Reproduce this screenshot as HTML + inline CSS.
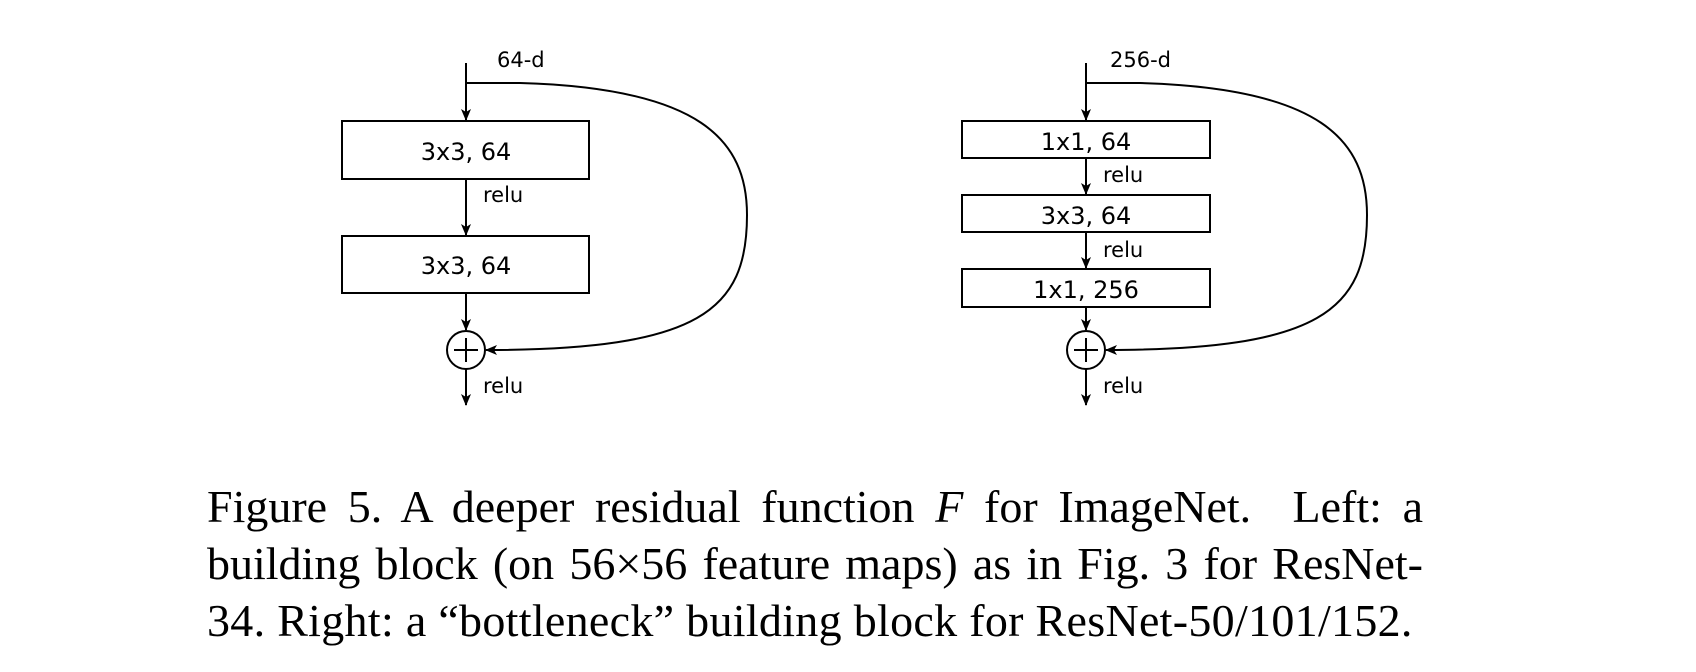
<!DOCTYPE html>
<html><head><meta charset="utf-8"><style>
html,body{margin:0;padding:0;background:#fff;}
body{width:1696px;height:672px;position:relative;overflow:hidden;}
svg{position:absolute;left:0;top:0;}
.cap{position:absolute;left:207px;font-family:"Liberation Serif",serif;font-size:46px;line-height:46px;color:#000;text-align:justify;text-align-last:justify;white-space:nowrap;}
</style></head><body>
<svg width="1696" height="672" viewBox="0 0 1696 672">
<defs><marker id="a" markerWidth="12" markerHeight="12" refX="11" refY="6" orient="auto" markerUnits="userSpaceOnUse"><path d="M0,1 L12,6 L0,11 L3,6 Z" fill="#000"/></marker></defs>
<g font-family="'DejaVu Sans','Liberation Sans',sans-serif" fill="#000">
<text x="497" y="67" font-size="21">64-d</text>
<line x1="466" y1="63" x2="466" y2="120" stroke="#000" stroke-width="2" marker-end="url(#a)"/>
<rect x="342" y="121" width="247" height="58" fill="none" stroke="#000" stroke-width="2"/>
<text x="466" y="160" font-size="24" text-anchor="middle">3x3, 64</text>
<line x1="466" y1="179" x2="466" y2="235" stroke="#000" stroke-width="2" marker-end="url(#a)"/>
<text x="483" y="202" font-size="21">relu</text>
<rect x="342" y="236" width="247" height="57" fill="none" stroke="#000" stroke-width="2"/>
<text x="466" y="274" font-size="24" text-anchor="middle">3x3, 64</text>
<line x1="466" y1="293" x2="466" y2="330" stroke="#000" stroke-width="2" marker-end="url(#a)"/>
<circle cx="466" cy="350" r="19" fill="none" stroke="#000" stroke-width="2"/>
<line x1="454" y1="350" x2="478" y2="350" stroke="#000" stroke-width="2"/>
<line x1="466" y1="338" x2="466" y2="362" stroke="#000" stroke-width="2"/>
<line x1="466" y1="369" x2="466" y2="405" stroke="#000" stroke-width="2" marker-end="url(#a)"/>
<text x="483" y="393" font-size="21">relu</text>
<path d="M466,83 L520,83 C700,88 747,140 747,215 C747,310 700,350 486,350" fill="none" stroke="#000" stroke-width="2" marker-end="url(#a)"/>
<text x="1110" y="67" font-size="21">256-d</text>
<line x1="1086" y1="63" x2="1086" y2="120" stroke="#000" stroke-width="2" marker-end="url(#a)"/>
<rect x="962" y="121" width="248" height="37" fill="none" stroke="#000" stroke-width="2"/>
<text x="1086" y="150" font-size="24" text-anchor="middle">1x1, 64</text>
<line x1="1086" y1="158" x2="1086" y2="194" stroke="#000" stroke-width="2" marker-end="url(#a)"/>
<text x="1103" y="182" font-size="21">relu</text>
<rect x="962" y="195" width="248" height="37" fill="none" stroke="#000" stroke-width="2"/>
<text x="1086" y="224" font-size="24" text-anchor="middle">3x3, 64</text>
<line x1="1086" y1="232" x2="1086" y2="268" stroke="#000" stroke-width="2" marker-end="url(#a)"/>
<text x="1103" y="257" font-size="21">relu</text>
<rect x="962" y="269" width="248" height="38" fill="none" stroke="#000" stroke-width="2"/>
<text x="1086" y="298" font-size="24" text-anchor="middle">1x1, 256</text>
<line x1="1086" y1="307" x2="1086" y2="330" stroke="#000" stroke-width="2" marker-end="url(#a)"/>
<circle cx="1086" cy="350" r="19" fill="none" stroke="#000" stroke-width="2"/>
<line x1="1074" y1="350" x2="1098" y2="350" stroke="#000" stroke-width="2"/>
<line x1="1086" y1="338" x2="1086" y2="362" stroke="#000" stroke-width="2"/>
<line x1="1086" y1="369" x2="1086" y2="405" stroke="#000" stroke-width="2" marker-end="url(#a)"/>
<text x="1103" y="393" font-size="21">relu</text>
<path d="M1086,83 L1140,83 C1320,88 1367,140 1367,215 C1367,310 1320,350 1106,350" fill="none" stroke="#000" stroke-width="2" marker-end="url(#a)"/>
</g>
</svg>
<div class="cap" style="top:484px;width:1216px;">Figure 5. A deeper residual function <i>F</i> for ImageNet.&nbsp; Left: a</div>
<div class="cap" style="top:541px;width:1216px;">building block (on 56×56 feature maps) as in Fig. 3 for ResNet-</div>
<div class="cap" style="top:598px;width:1216px;text-align-last:left;letter-spacing:0.3px;">34. Right: a “bottleneck” building block for ResNet-50/101/152.</div>
</body></html>
